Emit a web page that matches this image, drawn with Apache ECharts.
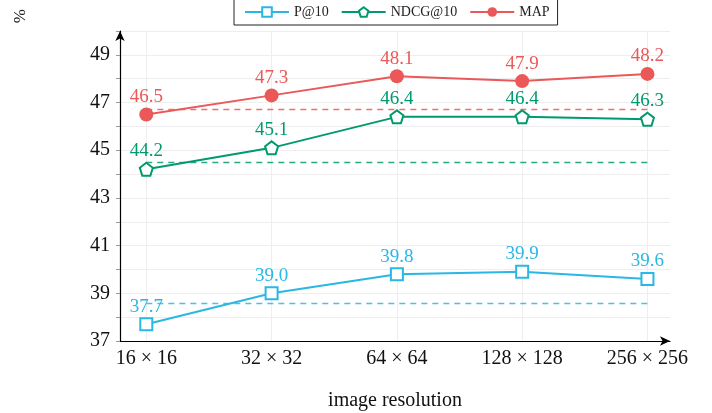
<!DOCTYPE html>
<html>
<head>
<meta charset="utf-8">
<script src="https://cdn.jsdelivr.net/npm/echarts@6/dist/echarts.min.js"></script>
<style>
  html, body { margin: 0; padding: 0; background: #fff; }
  #chart { width: 712px; height: 413px; }
</style>
</head>
<body>
<div id="chart"></div>
<script>
const categories = ['16 × 16', '32 × 32', '64 × 64', '128 × 128', '256 × 256'];
const p10 = [37.7, 39.0, 39.8, 39.9, 39.6];
const ndcg10 = [44.2, 45.1, 46.4, 46.4, 46.3];
const map = [46.5, 47.3, 48.1, 47.9, 48.2];
// dashed baselines
const p10Base = 38.6;
const ndcgBase = 44.5;
const mapBase = 46.7;
const yTicks = [37, 39, 41, 43, 45, 47, 49];

const BLUE = '#2ab7e3', GREEN = '#009a6e', RED = '#eb5858';
const FONT = 'Liberation Serif';
const pentagon = 'path://M0,-10 L9.5,-3.1 L5.9,8.1 L-5.9,8.1 L-9.5,-3.1 Z';

const toPts = arr => arr.map((v, i) => [i, v]);

function baseLine(v, color) {
  const style = { type: [6, 5], width: 1.3, color: color, opacity: 0.85 };
  return {
    silent: true,
    symbol: 'none',
    label: { show: false },
    itemStyle: { color: color },
    lineStyle: style,
    data: [[{ coord: [0, v], lineStyle: style }, { coord: [categories.length - 1, v] }]]
  };
}

function series(name, data, color, symbol, size, filled, base) {
  return {
    name: name,
    type: 'line',
    data: toPts(data),
    symbol: symbol,
    symbolSize: size,
    showAllSymbol: true,
    lineStyle: { color: color, width: 2 },
    itemStyle: filled
      ? { color: color }
      : { color: '#fff', borderColor: color, borderWidth: 2 },
    label: {
      show: true,
      position: 'top',
      distance: 1,
      color: color,
      fontFamily: FONT,
      fontSize: 19,
      formatter: p => p.value[1].toFixed(1)
    },
    markLine: baseLine(base, color),
    z: 3
  };
}

const chart = echarts.init(document.getElementById('chart'));
chart.setOption({
  animation: false,
  textStyle: { fontFamily: FONT },
  grid: { left: 120, right: 42, top: 31, bottom: 72, outerBoundsMode: 'none', containLabel: false },
  legend: {
    top: -4,
    left: 234,
    padding: [9, 8, 6, 10],
    itemGap: 12,
    itemWidth: 44,
    itemHeight: 12,
    borderColor: '#222',
    borderWidth: 1,
    textStyle: { fontFamily: FONT, fontSize: 14, color: '#222' },
    data: ['P@10', 'NDCG@10', 'MAP']
  },
  graphic: [{
    type: 'text', left: 12, top: 9, rotation: Math.PI / 2,
    style: { text: '%', font: '17px "Liberation Serif"', fill: '#222' }
  }],
  xAxis: {
    type: 'value',
    min: -0.21,
    max: 4.18,
    name: 'image resolution',
    nameLocation: 'middle',
    nameGap: 50,
    nameTextStyle: { fontFamily: FONT, fontSize: 20, color: '#111' },
    axisLine: { onZero: false, lineStyle: { color: '#000', width: 1.2 }, symbol: ['none', 'arrow'], symbolSize: [7, 10] },
    axisTick: { show: false, customValues: [0, 1, 2, 3, 4] },
    axisLabel: {
      customValues: [0, 1, 2, 3, 4],
      formatter: v => categories[Math.round(v)],
      fontFamily: FONT, fontSize: 20, color: '#111', margin: 8
    },
    splitLine: { show: true, lineStyle: { color: '#eeeeee' } }
  },
  yAxis: {
    type: 'value',
    min: 37,
    max: 50,
    interval: 1,
    axisLine: { show: true, onZero: false, lineStyle: { color: '#000', width: 1.2 }, symbol: ['none', 'arrow'], symbolSize: [7, 10] },
    axisTick: { show: true, length: 4, lineStyle: { color: '#999' } },
    axisLabel: {
      formatter: v => (yTicks.indexOf(v) >= 0 ? String(v) : ''),
      fontFamily: FONT, fontSize: 20, color: '#111', margin: 10
    },
    splitLine: { show: true, lineStyle: { color: '#eeeeee' } }
  },
  series: [
    series('P@10', p10, BLUE, 'rect', 12, false, p10Base),
    series('NDCG@10', ndcg10, GREEN, pentagon, 13, false, ndcgBase),
    series('MAP', map, RED, 'circle', 14, true, mapBase)
  ]
});
</script>
</body>
</html>
